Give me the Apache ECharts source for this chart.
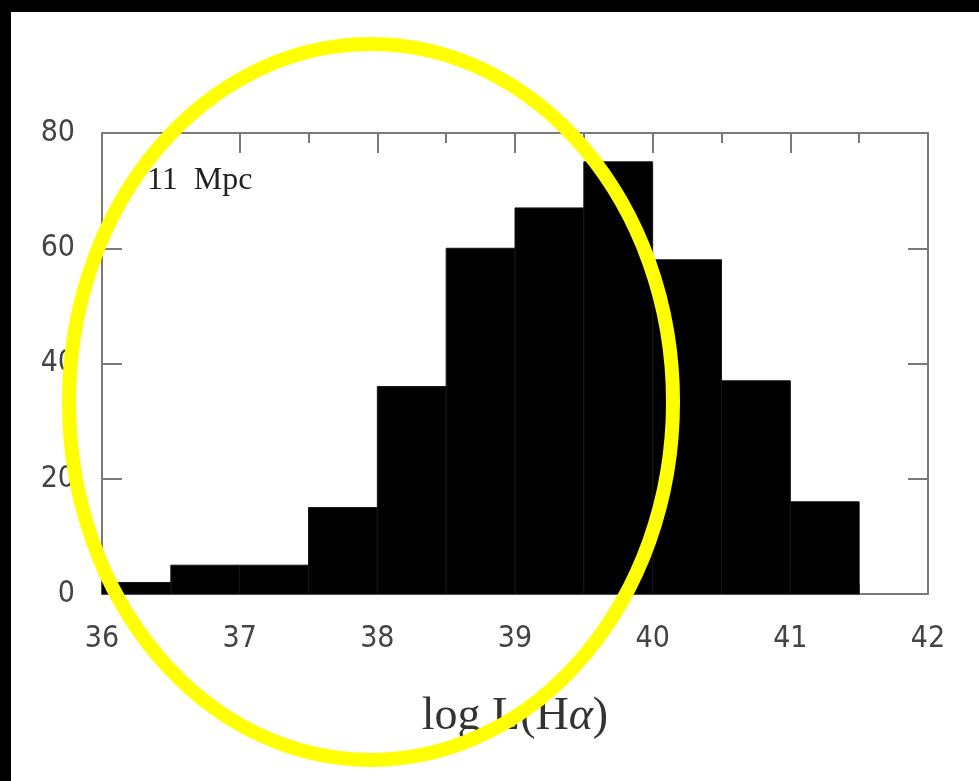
<!DOCTYPE html>
<html>
<head>
    <meta charset="UTF-8">
    <title>log L(Hα) histogram</title>
    <script src="https://cdn.jsdelivr.net/npm/echarts@6/dist/echarts.min.js"></script>
    <style>
        html, body { margin: 0; padding: 0; background: #fff; }
        #chart { width: 979px; height: 781px; }
    </style>
</head>
<body>
    <div id="chart"></div>
    <script>
        // histogram bins (left edges), bin width and counts
        const binStart = [36, 36.5, 37, 37.5, 38, 38.5, 39, 39.5, 40, 40.5, 41];
        const binWidth = 0.5;
        const counts = [2, 5, 5, 15, 36, 60, 67, 75, 58, 37, 16];
        const xTicks = [36, 37, 38, 39, 40, 41, 42];
        const yTicks = [0, 20, 40, 60, 80];

        const chart = echarts.init(document.getElementById('chart'));

        const labelFont = "'Liberation Sans Narrow', 'DejaVu Sans Condensed', 'Liberation Sans', sans-serif";
        const axisLine = { show: true, onZero: false, lineStyle: { color: '#7a7a7a', width: 2 } };
        const tickStyle = { color: '#7a7a7a', width: 2 };

        const option = {
            animation: false,
            backgroundColor: '#fff',
            grid: { left: 102, top: 133, width: 826, height: 461 },
            xAxis: [{
                type: 'value', min: xTicks[0], max: xTicks[xTicks.length - 1], interval: 1,
                axisLine: axisLine,
                axisTick: { inside: true, length: 20, lineStyle: tickStyle },
                minorTick: { show: true, splitNumber: 2, length: 10, lineStyle: tickStyle },
                splitLine: { show: false },
                axisLabel: { margin: 30, fontSize: 30, color: '#444', fontFamily: labelFont },
                name: 'log L(H{a|α})',
                nameLocation: 'middle',
                nameGap: 100,
                nameTextStyle: {
                    fontFamily: "'Liberation Serif', 'DejaVu Serif', serif",
                    fontSize: 46, color: '#333',
                    rich: { a: { fontFamily: "'Liberation Serif', serif", fontStyle: 'italic', fontSize: 46, color: '#333' } }
                }
            }, {
                type: 'value', position: 'top', min: xTicks[0], max: xTicks[xTicks.length - 1], interval: 1,
                axisLine: axisLine,
                axisTick: { inside: true, length: 20, lineStyle: tickStyle },
                minorTick: { show: true, splitNumber: 2, length: 10, lineStyle: tickStyle },
                splitLine: { show: false },
                axisLabel: { show: false }
            }],
            yAxis: [{
                type: 'value', min: yTicks[0], max: yTicks[yTicks.length - 1], interval: 20,
                axisLine: axisLine,
                axisTick: { inside: true, length: 20, lineStyle: tickStyle },
                splitLine: { show: false },
                axisLabel: { margin: 27, fontSize: 30, color: '#444', fontFamily: labelFont }
            }, {
                type: 'value', position: 'right', min: yTicks[0], max: yTicks[yTicks.length - 1], interval: 20,
                axisLine: axisLine,
                axisTick: { inside: true, length: 20, lineStyle: tickStyle },
                splitLine: { show: false },
                axisLabel: { show: false }
            }],
            series: [{
                type: 'custom',
                xAxisIndex: 0,
                yAxisIndex: 0,
                encode: { x: [0, 1], y: 2 },
                data: binStart.map((s, i) => [s, s + binWidth, counts[i]]),
                renderItem: function (params, api) {
                    const p0 = api.coord([api.value(0), api.value(2)]);
                    const p1 = api.coord([api.value(1), 0]);
                    return {
                        type: 'rect',
                        shape: { x: p0[0], y: p0[1], width: p1[0] - p0[0], height: p1[1] - p0[1] },
                        style: { fill: '#000', stroke: '#161616', lineWidth: 1 }
                    };
                }
            }],
            graphic: [
                {
                    type: 'text', left: 147, top: 165, z: 50,
                    style: { text: '11  Mpc', fontFamily: "'Liberation Serif', 'DejaVu Serif', serif", fontSize: 32, fill: '#222' }
                },
                // frame edges of the slide (top and left)
                { type: 'rect', shape: { x: 0, y: 0, width: 979, height: 12 }, style: { fill: '#000' }, z: 200 },
                { type: 'rect', shape: { x: 0, y: 0, width: 11, height: 781 }, style: { fill: '#000' }, z: 200 },
                // yellow highlight ellipse
                {
                    type: 'ellipse', z: 150,
                    shape: { cx: 371, cy: 402, rx: 302, ry: 358 },
                    style: { fill: 'none', stroke: '#ffff00', lineWidth: 14 }
                }
            ]
        };

        chart.setOption(option);
        window.addEventListener('resize', function () { chart.resize(); });
    </script>
</body>
</html>
